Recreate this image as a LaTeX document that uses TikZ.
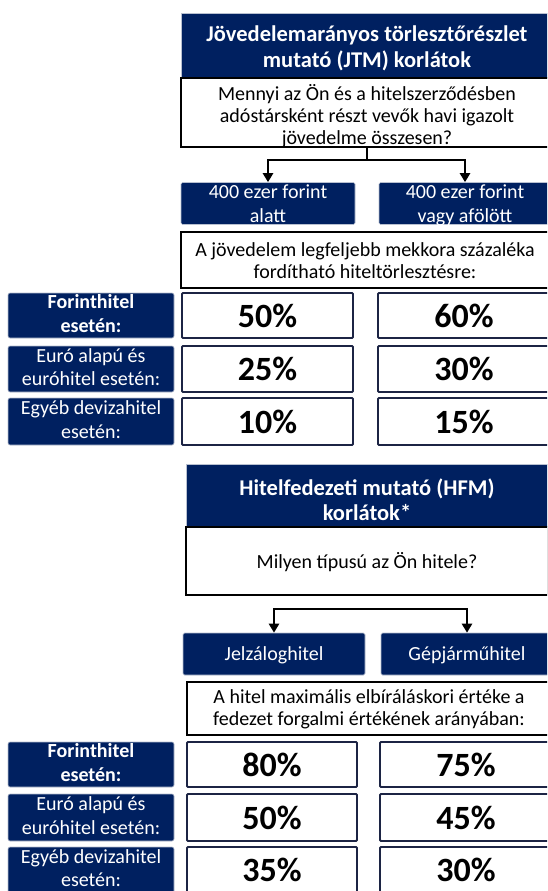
\documentclass[tikz,border=0pt]{standalone}
\usepackage{fontspec}
\setmainfont{Carlito}
\usetikzlibrary{arrows.meta}
\definecolor{navy}{HTML}{002060}
\definecolor{navyline}{HTML}{1C2444}
\definecolor{lightedge}{HTML}{B8C0D0}
\newcommand\mystrut{\rule[-5pt]{0pt}{15pt}}
\begin{document}
\begin{tikzpicture}[x=1pt,y=-1pt,
  titlebox/.style={fill=navy,draw=lightedge,line width=0.6pt,inner sep=0pt},
  titletext/.style={text=white,font=\fontsize{22.5}{25.5}\selectfont\bfseries,align=center,inner sep=0pt},
  questbox/.style={fill=white,draw=black,line width=2.2pt,inner sep=0pt},
  questtext/.style={font=\fontsize{20}{22}\selectfont,align=center,inner sep=0pt},
  branchbox/.style={fill=navy,draw=lightedge,line width=0.6pt,rounded corners=1.5pt,inner sep=0pt},
  branchtext/.style={text=white,font=\fontsize{20}{24}\selectfont,align=center,inner sep=0pt},
  rowlabel/.style={fill=navy,draw=lightedge,line width=0.6pt,rounded corners=2pt,inner sep=0pt,minimum width=166pt},
  rowtext/.style={text=white,font=\fontsize{20}{23.5}\selectfont,align=center,inner sep=0pt},
  rowbold/.style={rowtext,font=\fontsize{20}{23.5}\selectfont\bfseries},
  valbox/.style={fill=white,draw=navyline,line width=1.8pt,rounded corners=1pt,font=\fontsize{34}{36}\selectfont\bfseries,inner sep=0pt},
  conn/.style={draw=black,line width=2.4pt,-{Triangle[length=9pt,width=10pt]}}
]
\useasboundingbox (0,0) rectangle (547,891);
\clip (0,0) rectangle (547,891);
\fill[white] (0,0) rectangle (547,891);

% ---------- section 1 ----------
\node[titlebox,minimum width=372pt,minimum height=65pt] (t1) at (367,45.5) {};
\node[titletext] (t1t) at (367,48.5) {Jövedelemarányos törlesztőrészlet\\mutató (JTM) korlátok};
\node[questbox,minimum width=372pt,minimum height=69pt] (q1) at (367,112.5) {};
\node[questtext] (q1t) at (367,116) {Mennyi az Ön és a hitelszerződésben\\adóstársként részt vevők havi igazolt\\jövedelme összesen?};
\node[branchbox,minimum width=174pt,minimum height=42pt] (b1l) at (268,203.5) {};
\node[branchtext] (b1lt) at (268,206) {400 ezer forint\mystrut\\alatt\mystrut};
\node[branchbox,minimum width=172pt,minimum height=42pt] (b1r) at (465,203.5) {};
\node[branchtext] (b1rt) at (465,206) {400 ezer forint\mystrut\\vagy afölött\mystrut};
\coordinate (j1) at (367,160);
\draw[line width=2.4pt] (q1.south) -- (j1);
\draw[conn] (j1) -| (b1l.north);
\draw[conn] (j1) -| (b1r.north);
\node[questbox,minimum width=368pt,minimum height=56pt] (a1) at (365,260) {};
\node[questtext] (a1t) at (365,261) {A jövedelem legfeljebb mekkora százaléka\\fordítható hiteltörlesztésre:};

\node[rowlabel,minimum height=45pt] (r11) at (91,315.5) {};
\node[rowbold] (r11t) at (91,316) {Forinthitel\mystrut\\esetén:\mystrut};
\node[rowlabel,minimum height=46pt] (r12) at (91,369) {};
\node[rowtext] (r12t) at (91,369.5) {Euró alapú és\mystrut\\euróhitel esetén:\mystrut};
\node[rowlabel,minimum height=47pt] (r13) at (91,421.5) {};
\node[rowtext] (r13t) at (91,422) {Egyéb devizahitel\mystrut\\esetén:\mystrut};
\node[valbox,minimum width=171pt,minimum height=45pt] (v11l) at (267.5,315.5) {50\%};
\node[valbox,minimum width=172pt,minimum height=45pt] (v11r) at (464,315.5) {60\%};
\node[valbox,minimum width=171pt,minimum height=46pt] (v12l) at (267.5,369) {25\%};
\node[valbox,minimum width=172pt,minimum height=46pt] (v12r) at (464,369) {30\%};
\node[valbox,minimum width=171pt,minimum height=47pt] (v13l) at (267.5,421.5) {10\%};
\node[valbox,minimum width=172pt,minimum height=47pt] (v13r) at (464,421.5) {15\%};

% ---------- section 2 ----------
\node[titlebox,minimum width=362pt,minimum height=63pt] (t2) at (367,495.5) {};
\node[titletext] (t2t) at (367,499.5) {Hitelfedezeti mutató (HFM)\\korlátok*};
\node[questbox,minimum width=362pt,minimum height=68pt] (q2) at (367,561) {};
\node[questtext] (q2t) at (367,562) {Milyen típusú az Ön hitele?};
\node[branchbox,minimum width=182pt,minimum height=42pt] (b2l) at (274,654) {};
\node[branchtext] (b2lt) at (274,655) {Jelzáloghitel};
\node[branchbox,minimum width=172pt,minimum height=42pt] (b2r) at (467,654) {};
\node[branchtext] (b2rt) at (467,655) {Gépjárműhitel};
\coordinate (j2) at (370,609);
\draw[conn] (j2) -| (b2l.north);
\draw[conn] (j2) -| (b2r.north);
\node[questbox,minimum width=364pt,minimum height=53pt] (a2) at (369,708.5) {};
\node[questtext] (a2t) at (369,709.5) {A hitel maximális elbíráláskori értéke a\\fedezet forgalmi értékének arányában:};

\node[rowlabel,minimum height=45pt] (r21) at (91,764.5) {};
\node[rowbold] (r21t) at (91,765) {Forinthitel\mystrut\\esetén:\mystrut};
\node[rowlabel,minimum height=47pt] (r22) at (91,817.5) {};
\node[rowtext] (r22t) at (91,818) {Euró alapú és\mystrut\\euróhitel esetén:\mystrut};
\node[rowlabel,minimum height=46pt] (r23) at (91,870) {};
\node[rowtext] (r23t) at (91,870.5) {Egyéb devizahitel\mystrut\\esetén:\mystrut};
\node[valbox,minimum width=170pt,minimum height=45pt] (v21l) at (272,764.5) {80\%};
\node[valbox,minimum width=172pt,minimum height=45pt] (v21r) at (466,764.5) {75\%};
\node[valbox,minimum width=170pt,minimum height=47pt] (v22l) at (272,817.5) {50\%};
\node[valbox,minimum width=172pt,minimum height=47pt] (v22r) at (466,817.5) {45\%};
\node[valbox,minimum width=170pt,minimum height=46pt] (v23l) at (272,870) {35\%};
\node[valbox,minimum width=172pt,minimum height=46pt] (v23r) at (466,870) {30\%};
\end{tikzpicture}
\end{document}
